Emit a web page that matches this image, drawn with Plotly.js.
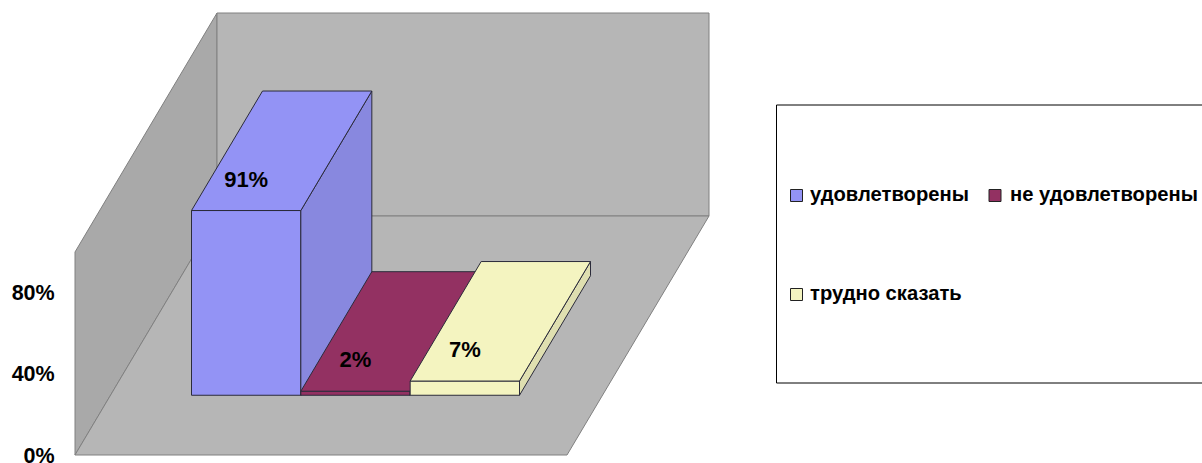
<!DOCTYPE html>
<html>
<head>
<meta charset="utf-8">
<script src="https://cdn.plot.ly/plotly-3.0.1.min.js"></script>
<style>html,body{margin:0;padding:0;background:#fff;overflow:hidden}#chart{width:1202px;height:463px}</style>
</head>
<body>
<div id="chart"></div>
<script>
// ---- data ----
const seriesNames = ['удовлетворены', 'не удовлетворены', 'трудно сказать'];
const seriesValues = [91, 2, 7];
const axisTicks = [0, 40, 80];
const axisTickLabels = ['0%', '40%', '80%'];
const frontColors = ['#9393f5', '#933162', '#f4f4c0'];
const sideColors = ['#8888df', '#7c2a53', '#dfdfb0'];

// ---- oblique 3D projection onto a 2D plot (x in px, y in percent) ----
const W = 1202, H = 463, PX_PER_PCT = 2.03;
const FLOOR_LEFT = 75, FLOOR_W = 492, FLOOR_PY = 455, DEPTH_X = 142, DEPTH_PCT = 239 / PX_PER_PCT;
const AXIS_MAX = 100;
const proj = (u, v, d) => [FLOOR_LEFT + FLOOR_W * u + DEPTH_X * d, v + DEPTH_PCT * d];
const pctOf = py => (FLOOR_PY - py) / PX_PER_PCT;

function poly(points, fill, line, lw, name) {
  const pts = points.concat([points[0]]);
  return {
    x: pts.map(p => p[0]), y: pts.map(p => p[1]),
    mode: 'lines', fill: 'toself', fillcolor: fill,
    line: {color: line, width: lw},
    hoverinfo: 'skip', showlegend: false, name: name || ''
  };
}

const traces = [];
const WALL_LINE = '#808080';
// left wall, back wall, floor
traces.push(poly([proj(0,0,0), proj(0,AXIS_MAX,0), proj(0,AXIS_MAX,1), proj(0,0,1)], '#a9a9a9', WALL_LINE, 1));
traces.push(poly([proj(0,0,1), proj(0,AXIS_MAX,1), proj(1,AXIS_MAX,1), proj(1,0,1)], '#b6b6b6', WALL_LINE, 1));
traces.push(poly([proj(0,0,0), proj(0,0,1), proj(1,0,1), proj(1,0,0)], '#b6b6b6', WALL_LINE, 1));

// bars: three columns in one cluster
const GAP_U = 81 / 492, BAR_U = 2 / 9, D0 = 0.25, D1 = 0.75, EDGE = '#2b2b3a';
seriesValues.forEach((v, i) => {
  const a = GAP_U + i * BAR_U, b = a + BAR_U;
  traces.push(poly([proj(a,0,D0), proj(a,v,D0), proj(b,v,D0), proj(b,0,D0)], frontColors[i], EDGE, 1, seriesNames[i]));
  traces.push(poly([proj(b,0,D0), proj(b,v,D0), proj(b,v,D1), proj(b,0,D1)], sideColors[i], EDGE, 1, seriesNames[i]));
  traces.push(poly([proj(a,v,D0), proj(a,v,D1), proj(b,v,D1), proj(b,v,D0)], frontColors[i], EDGE, 1, seriesNames[i]));
});

// data labels
const LABEL_LIFT = 29.5 / PX_PER_PCT;
const labelPts = seriesValues.map((v, i) => proj(GAP_U + (i + 0.5) * BAR_U, v + LABEL_LIFT, D0));
traces.push({
  x: labelPts.map(p => p[0]), y: labelPts.map(p => p[1]),
  text: seriesValues.map(v => v + '%'),
  mode: 'text', textposition: 'middle center',
  textfont: {family: 'Liberation Sans, Arial, sans-serif', size: 22, color: '#000', weight: 700},
  hoverinfo: 'skip', showlegend: false
});

// legend entries: swatch and text
const LEGEND_X = [796.5, 995, 796.5], LEGEND_TEXT_X = [810, 1010, 810], LEGEND_PY = [195.5, 195.5, 294.5];
seriesNames.forEach((n, i) => {
  traces.push({
    x: [LEGEND_X[i]], y: [pctOf(LEGEND_PY[i])],
    mode: 'markers', cliponaxis: false,
    marker: {symbol: 'square', size: 12, color: frontColors[i], line: {color: '#222', width: 1}},
    hoverinfo: 'skip', showlegend: false, name: n
  });
  traces.push({
    x: [LEGEND_TEXT_X[i]], y: [pctOf(LEGEND_PY[i])], text: [n],
    mode: 'text', textposition: 'middle right', cliponaxis: false,
    textfont: {family: 'Liberation Sans, Arial, sans-serif', size: 20.2, color: '#000', weight: 700},
    hoverinfo: 'skip', showlegend: false, name: n
  });
});

const layout = {
  width: W, height: H,
  margin: {l: 0, r: 0, t: 0, b: 0},
  paper_bgcolor: '#fff', plot_bgcolor: 'rgba(0,0,0,0)',
  showlegend: false,
  xaxis: {range: [0, W], visible: false, fixedrange: true},
  yaxis: {
    range: [pctOf(H), pctOf(0)], anchor: 'free', position: FLOOR_LEFT / W, side: 'left',
    tickmode: 'array', tickvals: axisTicks, ticktext: axisTickLabels,
    ticks: 'outside', ticklen: 16, tickcolor: 'rgba(0,0,0,0)', ticklabeloverflow: 'allow',
    tickfont: {family: 'Liberation Sans, Arial, sans-serif', size: 21.5, color: '#000', weight: 700},
    showgrid: false, zeroline: false, showline: false, fixedrange: true
  },
  shapes: [{
    type: 'rect', xref: 'paper', yref: 'paper', layer: 'below',
    x0: 776.5 / W, x1: 1.01, y0: 1 - 383 / H, y1: 1 - 105 / H,
    fillcolor: '#fff', line: {color: '#000', width: 1}
  }]
};
Plotly.newPlot('chart', traces, layout, {displayModeBar: false, staticPlot: true});
</script>
</body>
</html>
